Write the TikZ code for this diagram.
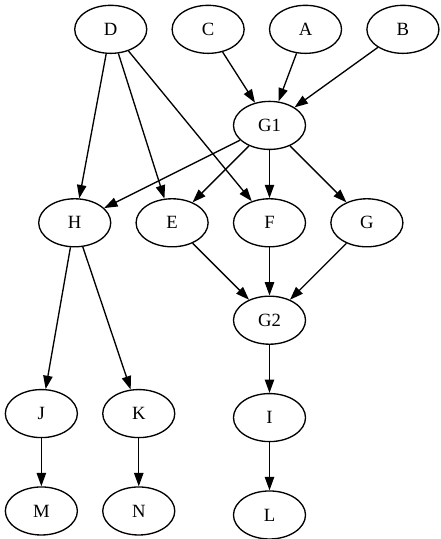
\documentclass[tikz,border=0pt]{standalone}
\usepackage{fontspec}
\setmainfont{Liberation Serif}
\usetikzlibrary{positioning,arrows.meta,shapes.geometric}
\tikzset{
>={Triangle[length=10pt,width=7pt]},
  varnode/.style={
    ellipse,
    draw=black, line width=1pt,
    minimum width=54pt,
    minimum height=36pt,
    inner sep=0pt,
    font=\fontsize{14}{16}\selectfont},
  link/.style={draw, line width=1pt, ->},
}
\begin{document}
\begin{tikzpicture}
  [node distance=36pt and 18pt, x=1pt, y=1pt]
  \useasboundingbox (-4,-4) rectangle (326,400);
  % top row
  \node[varnode] (D) at (79,378) {D};
  \node[varnode, right=of D] (C) {C};
  \node[varnode, right=of C] (A) {A};
  \node[varnode, right=of A] (B) {B};
  % middle part, hanging from G1
  \node[varnode] (G1) at (198,306) {G1};
  \node[varnode, below=of G1] (F) {F};
  \node[varnode, left=of F] (E) {E};
  \node[varnode, left=of E] (H) {H};
  \node[varnode, right=of F] (G) {G};
  \node[varnode, below=of F] (G2) {G2};
  \node[varnode, below=of G2] (I) {I};
  \node[varnode, below=of I] (L) {L};
  % left branch under H
  \node[varnode] (J) at (27,90) {J};
  \node[varnode, right=of J] (K) {K};
  \node[varnode, below=of J] (M) {M};
  \node[varnode, below=of K] (N) {N};
  % all the edges
  \foreach \a/\b in {D/H, D/E, D/F, C/G1, A/G1, B/G1,
                     G1/H, G1/E, G1/F, G1/G,
                     E/G2, F/G2, G/G2,
                     H/J, H/K, G2/I, J/M, K/N, I/L}
    \draw[link] (\a) -- (\b);
\end{tikzpicture}
\end{document}
